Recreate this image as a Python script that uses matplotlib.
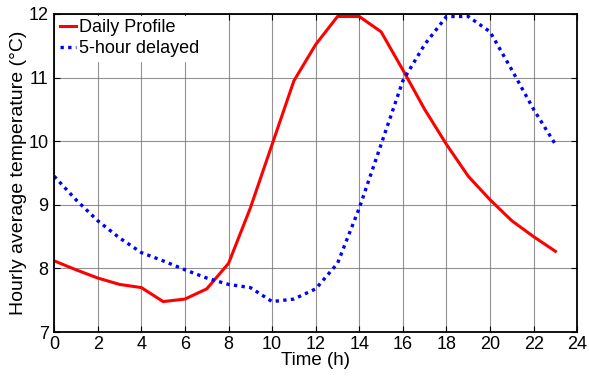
import matplotlib

matplotlib.use("Agg")
import matplotlib.pyplot as plt

plt.rcParams["font.family"] = ["Liberation Sans", "DejaVu Sans"]

hours = list(range(24))
daily = [8.12, 7.98, 7.85, 7.75, 7.70, 7.48, 7.52, 7.68, 8.08, 8.95, 9.95, 10.95,
         11.52, 11.96, 11.96, 11.72, 11.12, 10.50, 9.95, 9.45, 9.08, 8.75, 8.50, 8.27]
delayed = [9.45, 9.08, 8.75, 8.48, 8.25, 8.12, 7.98, 7.85, 7.75, 7.70, 7.48, 7.52,
           7.68, 8.08, 8.95, 9.95, 10.95, 11.52, 11.96, 11.96, 11.72, 11.12, 10.50, 9.95]
xticks = list(range(0, 25, 2))
yticks = [7, 8, 9, 10, 11, 12]

fig = plt.figure(figsize=(5.89, 3.77), dpi=100)
ax = fig.add_axes([0.092, 0.119, 0.888, 0.844])

ax.plot(hours, daily, color="#ff0000", lw=2.2, label="Daily Profile")
ax.plot(hours, delayed, color="#0000ff", lw=2.4, ls=(0, (1, 1.3)), label="5-hour delayed")

ax.set_xlim(0, 24)
ax.set_ylim(7, 12)
ax.set_xticks(xticks)
ax.set_yticks(yticks)
ax.grid(True, color="#777777", lw=0.8, alpha=0.8)
ax.set_axisbelow(True)
ax.tick_params(direction="in", top=True, right=True, labelsize=13, length=4)
ax.tick_params(axis="x", pad=3)
ax.tick_params(axis="y", pad=4)
for s in ax.spines.values():
    s.set_linewidth(1.3)

ax.set_xlabel("Time (h)", fontsize=13.5, labelpad=-1)
ax.set_ylabel("Hourly average temperature (°C)", fontsize=14, labelpad=1)

leg = ax.legend(loc="upper left", fontsize=13, frameon=True, fancybox=False,
                handlelength=0.9, handletextpad=0.2, borderaxespad=0.1,
                borderpad=0.2, labelspacing=0.2)
leg.get_frame().set_edgecolor("white")
leg.get_frame().set_alpha(1)

fig.savefig("out.png", dpi=100, facecolor="white")
